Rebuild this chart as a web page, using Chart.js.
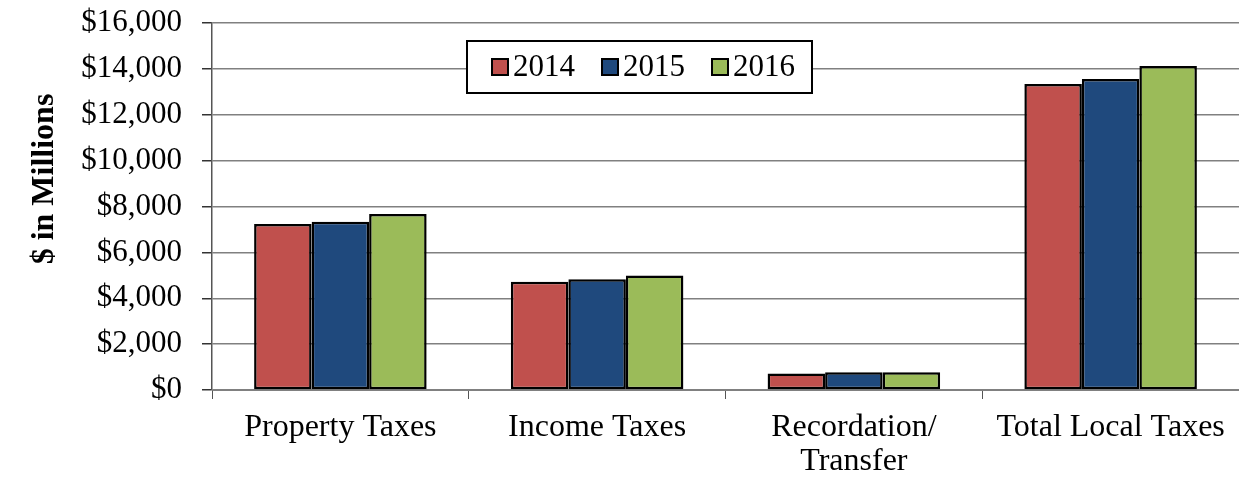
<!DOCTYPE html>
<html>
<head>
<meta charset="utf-8">
<title>Local Taxes 2014-2016</title>
<script src="https://cdn.jsdelivr.net/npm/chart.js@4.4.1/dist/chart.umd.min.js"></script>
<style>
  html, body { margin: 0; padding: 0; background: #fff; }
  #wrap { width: 1239px; height: 478px; position: relative; }
</style>
</head>
<body>
<div id="wrap"><canvas id="taxChart"></canvas></div>
<script>
// categories and yearly amounts ($ millions)
const categories = ['Property Taxes', 'Income Taxes', ['Recordation/', 'Transfer'], 'Total Local Taxes'];
const years = ['2014', '2015', '2016'];
const values2014 = [7240, 4720, 715, 13340];
const values2015 = [7340, 4830, 770, 13560];
const values2016 = [7670, 4990, 770, 14120];
const yMax = 16000;
const yStep = 2000;
const yTitle = '$ in Millions';

const seriesColors = ['#C0504D', '#1F497D', '#9BBB59'];
const serif = '"Liberation Serif", "Times New Roman", serif';

// legend in a framed box, sitting over the plot
const boxedLegend = {
    id: 'boxedLegend',
    afterDraw(chart) {
        const ctx = chart.ctx;
        const left = 467, top = 41, w = 345, h = 52;
        const cy = top + h / 2;
        ctx.save();
        ctx.fillStyle = '#fff';
        ctx.fillRect(left, top, w, h);
        ctx.lineWidth = 2;
        ctx.strokeStyle = '#000';
        ctx.strokeRect(left, top, w, h);
        ctx.font = '31px ' + serif;
        ctx.textBaseline = 'middle';
        let x = left + 25;
        chart.data.datasets.forEach(ds => {
            ctx.fillStyle = ds.backgroundColor;
            ctx.fillRect(x, cy - 8, 16, 16);
            ctx.strokeRect(x, cy - 8, 16, 16);
            ctx.fillStyle = '#000';
            ctx.fillText(ds.label, x + 21, cy + 1);
            x += 21 + ctx.measureText(ds.label).width + 27;
        });
        ctx.restore();
    }
};

// rotated y axis title
const axisTitle = {
    id: 'axisTitle',
    afterDraw(chart) {
        const ctx = chart.ctx;
        ctx.save();
        ctx.translate(53, 179);
        ctx.rotate(-Math.PI / 2);
        ctx.font = 'bold 32px ' + serif;
        ctx.fillStyle = '#000';
        ctx.textAlign = 'center';
        ctx.textBaseline = 'alphabetic';
        ctx.fillText(yTitle, 0, 0);
        ctx.restore();
    }
};

const seriesValues = [values2014, values2015, values2016];

new Chart(document.getElementById('taxChart'), {
    type: 'bar',
    data: {
        labels: categories,
        datasets: years.map((year, i) => ({
            label: year,
            data: seriesValues[i],
            backgroundColor: seriesColors[i],
            borderColor: '#000',
            borderWidth: 2.5,
            borderSkipped: false,
            barPercentage: 1,
            categoryPercentage: 0.672
        }))
    },
    options: {
        responsive: true,
        maintainAspectRatio: false,
        animation: false,
        layout: { padding: { top: 23, left: 0, right: 0, bottom: 0 } },
        plugins: {
            legend: { display: false },
            tooltip: { enabled: false }
        },
        scales: {
            x: {
                grid: { offset: true, drawOnChartArea: false, drawTicks: true, tickLength: 9, color: '#555' },
                border: { color: '#808080', width: 1 },
                ticks: {
                    color: '#000',
                    font: { family: serif, size: 32, lineHeight: 1.08 },
                    padding: 11,
                    maxRotation: 0,
                    autoSkip: false
                },
                afterFit(scale) { scale.height = 88; }
            },
            y: {
                min: 0,
                max: yMax,
                ticks: {
                    stepSize: yStep,
                    color: '#000',
                    font: { family: serif, size: 31 },
                    padding: 20,
                    callback: v => '$' + v.toLocaleString('en-US')
                },
                grid: { color: '#808080', lineWidth: 1.5, tickColor: '#333', tickLength: 10 },
                border: { color: '#555', width: 1.5 },
                afterFit(scale) {
                    scale.width = 212;
                    scale.paddingTop = 0;
                    scale.paddingBottom = 0;
                }
            }
        }
    },
    plugins: [boxedLegend, axisTitle]
});
</script>
</body>
</html>
